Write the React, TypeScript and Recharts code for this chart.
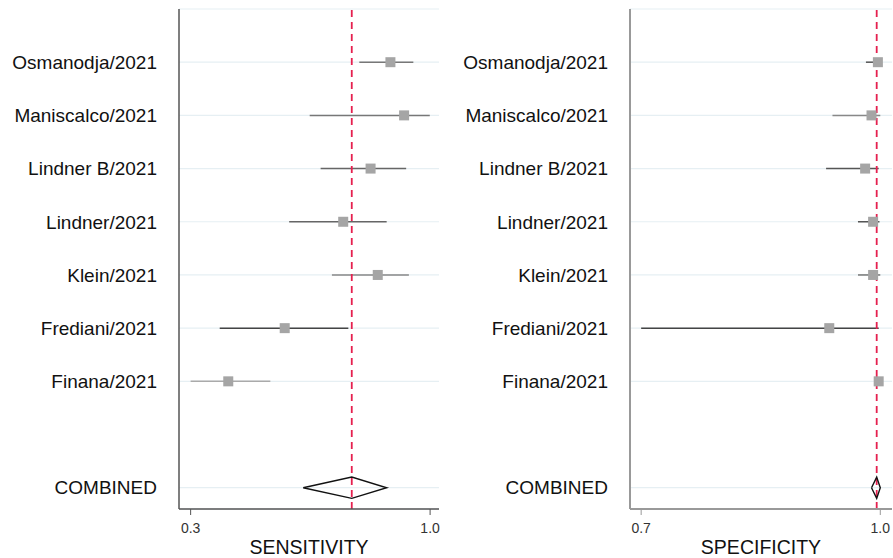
import React from 'react';
import {
  ScatterChart,
  Scatter,
  XAxis,
  YAxis,
  CartesianGrid,
  ReferenceLine,
} from 'recharts';

// study names, top to bottom
const studies = [
  'Osmanodja/2021',
  'Maniscalco/2021',
  'Lindner B/2021',
  'Lindner/2021',
  'Klein/2021',
  'Frediani/2021',
  'Finana/2021',
];

// sensitivity: point estimate and 95% CI
const sensEst = [0.884, 0.924, 0.826, 0.746, 0.847, 0.575, 0.41];
const sensLo = [0.793, 0.648, 0.68, 0.588, 0.713, 0.385, 0.3];
const sensHi = [0.951, 0.999, 0.93, 0.873, 0.938, 0.761, 0.533];
const sensCombined = { lo: 0.629, est: 0.771, hi: 0.873 };

// specificity: point estimate and 95% CI
const specEst = [0.997, 0.989, 0.981, 0.991, 0.991, 0.936, 0.998];
const specLo = [0.982, 0.94, 0.932, 0.972, 0.972, 0.7, 0.993];
const specHi = [1.0, 1.0, 0.998, 0.999, 1.0, 0.998, 1.0];
const specCombined = { lo: 0.989, est: 0.9955, hi: 1.0 };

const sensTicks = [0.3, 1.0];
const specTicks = [0.7, 1.0];

// line colours for the CI whiskers (style only)
const sensCiColors = ['#777', '#777', '#666', '#666', '#888', '#444', '#aaa'];
const specCiColors = ['#555', '#888', '#555', '#555', '#777', '#444', '#888'];

// y slot of each row: studies from top, empty slot, then COMBINED at 0
const rowY = (i: number) => studies.length + 1 - i;
const COMBINED_Y = 0;
const DIAMOND_HALF = 0.2;

const yTicks = [COMBINED_Y, ...studies.map((_, i) => rowY(i))].sort((a, b) => a - b);
const yLabel = (v: number) => {
  if (v === COMBINED_Y) return 'COMBINED';
  const idx = studies.findIndex((_, i) => rowY(i) === v);
  return idx >= 0 ? studies[idx] : '';
};

const Square = (props: any) => {
  const { cx, cy } = props;
  if (cx == null || cy == null) return <g />;
  return <rect x={cx - 5} y={cy - 5} width={10} height={10} fill="#a5a5a5" />;
};

interface PanelProps {
  est: number[];
  lo: number[];
  hi: number[];
  combined: { lo: number; est: number; hi: number };
  domain: [number, number];
  ticks: number[];
  title: string;
  ciColors: string[];
  width: number;
  marginRight: number;
  axisColor: string;
  axisWidth: number;
}

const ForestPanel: React.FC<PanelProps> = ({
  est, lo, hi, combined, domain, ticks, title, ciColors, width, marginRight, axisColor, axisWidth,
}) => {
  const points = est.map((v, i) => ({ x: v, y: rowY(i) }));
  const diamond = [
    { x: combined.lo, y: COMBINED_Y },
    { x: combined.est, y: COMBINED_Y + DIAMOND_HALF },
    { x: combined.hi, y: COMBINED_Y },
    { x: combined.est, y: COMBINED_Y - DIAMOND_HALF },
    { x: combined.lo, y: COMBINED_Y },
  ];

  return (
    <ScatterChart width={width} height={558} margin={{ top: 9, right: marginRight, left: 0, bottom: 0 }}>
      <CartesianGrid horizontal vertical={false} stroke="#e6eff3" strokeWidth={1.2} />
      <XAxis
        type="number"
        dataKey="x"
        domain={domain}
        ticks={ticks}
        allowDataOverflow
        interval={0}
        height={49}
        tickSize={6}
        tickMargin={8}
        tickFormatter={(v: number) => v.toFixed(1)}
        tick={{ fontSize: 14, fill: '#333', fontFamily: 'Liberation Sans, Arial, sans-serif' }}
        stroke={axisColor}
        axisLine={{ stroke: axisColor, strokeWidth: axisWidth }}
        tickLine={{ stroke: axisColor }}
        label={{
          value: title,
          position: 'insideBottom',
          offset: 4,
          fontSize: 19.5,
          fill: '#111',
          fontFamily: 'Liberation Sans, Arial, sans-serif',
        }}
      />
      <YAxis
        type="number"
        dataKey="y"
        domain={[-0.4, 9]}
        ticks={yTicks}
        allowDataOverflow
        interval={0}
        width={179}
        tickSize={0}
        tickMargin={22}
        tickLine={false}
        tickFormatter={yLabel}
        tick={{ fontSize: 19, fill: '#111', fontFamily: 'Liberation Sans, Arial, sans-serif' }}
        axisLine={{ stroke: axisColor, strokeWidth: axisWidth }}
      />
      {est.map((_, i) => (
        <ReferenceLine
          key={`ci-${i}`}
          segment={[{ x: lo[i], y: rowY(i) }, { x: hi[i], y: rowY(i) }]}
          stroke={ciColors[i]}
          strokeWidth={1.5}
          ifOverflow="visible"
        />
      ))}
      <ReferenceLine x={combined.est} stroke="#e5204f" strokeWidth={1.8} strokeDasharray="7 5" />
      <Scatter data={points} shape={Square} isAnimationActive={false} />
      <Scatter
        data={diamond}
        line={{ stroke: '#111', strokeWidth: 1.4 }}
        lineType="joint"
        shape={() => <g />}
        isAnimationActive={false}
      />
    </ScatterChart>
  );
};

export default function App() {
  return (
    <div style={{ position: 'absolute', left: 0, top: 0, width: 893, height: 558, display: 'flex', background: '#fff' }}>
      <ForestPanel
        est={sensEst}
        lo={sensLo}
        hi={sensHi}
        combined={sensCombined}
        domain={[0.266, 1.026]}
        ticks={sensTicks}
        title="SENSITIVITY"
        ciColors={sensCiColors}
        width={451}
        marginRight={12}
        axisColor="#555"
        axisWidth={1.5}
      />
      <ForestPanel
        est={specEst}
        lo={specLo}
        hi={specHi}
        combined={specCombined}
        domain={[0.686, 1.0147]}
        ticks={specTicks}
        title="SPECIFICITY"
        ciColors={specCiColors}
        width={442}
        marginRight={1}
        axisColor="#999"
        axisWidth={2}
      />
    </div>
  );
}
